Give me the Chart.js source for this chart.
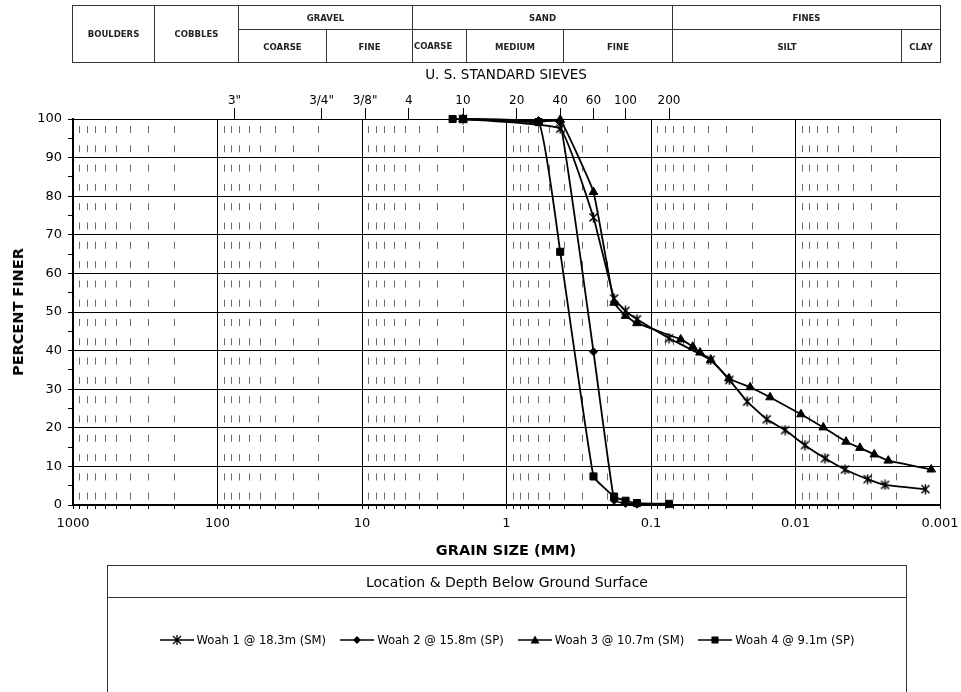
<!DOCTYPE html>
<html>
<head>
<meta charset="utf-8">
<script src="https://cdn.jsdelivr.net/npm/chart.js@4.4.1/dist/chart.umd.min.js"></script>
<style>
body { margin: 0; background: #fff; font-family: "DejaVu Sans", sans-serif; color: #000; }
#page { position: relative; width: 961px; height: 692px; overflow: hidden; }
#chart { position: absolute; left: 0; top: 0; }
.cell { position: absolute; box-sizing: border-box; border: 1px solid #333; display: flex;
        align-items: center; justify-content: center; font-weight: bold; font-size: 8.5px; color: #222; }
.label { position: absolute; white-space: nowrap; }
#legendBox { position: absolute; left: 107px; top: 565px; width: 800px; height: 140px;
             box-sizing: border-box; border: 1px solid #333; }
#legendHead { height: 31px; border-bottom: 1px solid #333; display: flex; align-items: center;
              justify-content: center; font-size: 14px; }
#legendItems { position: absolute; left: 0; right: 0; top: 67px; display: flex; justify-content: center;
               align-items: center; font-size: 11.6px; }
.item { display: flex; align-items: center; margin: 0 7px; }
.item svg { margin-right: 3px; }
</style>
</head>
<body>
<div id="page">
  <canvas id="chart" width="961" height="692"></canvas>
  <div id="table"></div>
  <div class="label" style="left:506px;top:74px;transform:translate(-50%,-50%);font-size:13.5px;">U. S. STANDARD SIEVES</div>
  <div class="label" style="left:18px;top:312px;transform:translate(-50%,-50%) rotate(-90deg);font-size:14.5px;font-weight:bold;">PERCENT FINER</div>
  <div class="label" style="left:506px;top:550px;transform:translate(-50%,-50%);font-size:14.5px;font-weight:bold;">GRAIN SIZE (MM)</div>
  <div id="legendBox">
    <div id="legendHead">Location &amp; Depth Below Ground Surface</div>
    <div id="legendItems"></div>
  </div>
</div>
<script>
// sieve test + hydrometer results, grain size in mm vs percent finer
const woah1Size = [2.0, 0.425, 0.25, 0.18, 0.15, 0.125, 0.075, 0.0386, 0.0287, 0.0216, 0.0158, 0.0118, 0.0086, 0.00625, 0.00454, 0.00317, 0.0024, 0.00126];
const woah1Finer = [100, 97.5, 74.5, 53.5, 50.3, 48.1, 43.2, 37.6, 32.4, 26.8, 22.2, 19.4, 15.5, 12.1, 9.2, 6.7, 5.2, 4.1];

const woah2Size = [2.0, 0.6, 0.425, 0.25, 0.18, 0.15, 0.125];
const woah2Finer = [100, 99.6, 99.2, 39.7, 1.2, 0.4, 0.2];

const woah3Size = [2.0, 0.6, 0.425, 0.25, 0.18, 0.15, 0.125, 0.0623, 0.0514, 0.0458, 0.0386, 0.0289, 0.0206, 0.015, 0.00917, 0.00642, 0.00447, 0.00358, 0.00285, 0.00228, 0.00115];
const woah3Finer = [100, 99.2, 99.8, 81.1, 52.4, 49.0, 47.1, 42.9, 41.0, 39.5, 37.6, 32.8, 30.5, 27.9, 23.5, 20.1, 16.4, 14.8, 13.1, 11.5, 9.2];

const woah4Size = [2.36, 2.0, 0.6, 0.425, 0.25, 0.18, 0.15, 0.125, 0.075];
const woah4Finer = [100, 100, 99.2, 65.6, 7.4, 2.2, 1.1, 0.5, 0.3];

const seriesNames = ["Woah 1 @ 18.3m (SM)", "Woah 2 @ 15.8m (SP)", "Woah 3 @ 10.7m (SM)", "Woah 4 @ 9.1m (SP)"];

// axis ticks
const decades = [1000, 100, 10, 1, 0.1, 0.01, 0.001];
const sieveLabels = ['3"', '3/4"', '3/8"', '4', '10', '20', '40', '60', '100', '200'];
const sieveSizes = [76.2, 19.05, 9.525, 4.75, 2.0, 0.85, 0.425, 0.25, 0.15, 0.075];

// soil classification header
const upperCells = [["BOULDERS", 72, 154, true], ["COBBLES", 154, 238, true], ["GRAVEL", 238, 412], ["SAND", 412, 672], ["FINES", 672, 940]];
const lowerCells = [["COARSE", 238, 326], ["FINE", 326, 412], ["COARSE", 412, 466], ["MEDIUM", 466, 563], ["FINE", 563, 672], ["SILT", 672, 901], ["CLAY", 901, 940]];

const table = document.getElementById("table");
function addCell(text, x1, x2, y1, y2, extra) {
    const d = document.createElement("div");
    d.className = "cell";
    d.style.left = x1 + "px";
    d.style.top = y1 + "px";
    d.style.width = (x2 - x1 + 1) + "px";
    d.style.height = (y2 - y1 + 1) + "px";
    if (extra) Object.assign(d.style, extra);
    d.textContent = text;
    table.appendChild(d);
}
upperCells.forEach(c => addCell(c[0], c[1], c[2], 5, c[3] ? 62 : 29, c[3] ? null : { paddingTop: "1px" }));
lowerCells.forEach((c, i) => addCell(c[0], c[1], c[2], 29, 62, i === 2 ? { justifyContent: "flex-start", paddingLeft: "1px" } : { paddingTop: "2px" }));

// all log ticks 1..9 x 10^n
const allTicks = [];
decades.slice(1).forEach(d => {
    for (let m = 9; m >= 1; m--) allTicks.push(Number((m * d).toPrecision(3)));
});
allTicks.unshift(1000);
const isDecade = v => decades.includes(v);

// asterisk marker
const star = document.createElement("canvas");
star.width = 11; star.height = 11;
const sc = star.getContext("2d");
sc.strokeStyle = "#000"; sc.lineWidth = 1.5;
sc.beginPath();
sc.moveTo(1.5, 1.5); sc.lineTo(9.5, 9.5);
sc.moveTo(9.5, 1.5); sc.lineTo(1.5, 9.5);
sc.moveTo(5.5, 0.5); sc.lineTo(5.5, 10.5);
sc.stroke();

function pts(sizes, finer) { return sizes.map((s, i) => ({ x: s, y: finer[i] })); }

const styles = [
    { pointStyle: star, pointRadius: 5 },
    { pointStyle: "rectRot", pointRadius: 4 },
    { pointStyle: "triangle", pointRadius: 5 },
    { pointStyle: "rect", pointRadius: 5 }
];
const data = [pts(woah1Size, woah1Finer), pts(woah2Size, woah2Finer), pts(woah3Size, woah3Finer), pts(woah4Size, woah4Finer)];

Chart.defaults.font.family = "DejaVu Sans";
Chart.defaults.color = "#000";

const frame = {
    id: "frame",
    afterDraw(chart) {
        const a = chart.chartArea, ctx = chart.ctx;
        ctx.save();
        ctx.strokeStyle = "#000";
        ctx.lineWidth = 1;
        ctx.beginPath();
        ctx.moveTo(a.right + 0.5, a.top);
        ctx.lineTo(a.right + 0.5, a.bottom);
        ctx.stroke();
        ctx.restore();
    }
};

new Chart(document.getElementById("chart"), {
    type: "line",
    data: {
        datasets: data.map((d, i) => ({
            label: seriesNames[i],
            data: d,
            borderColor: "#000",
            backgroundColor: "#000",
            borderWidth: 1.8,
            pointBackgroundColor: "#000",
            pointBorderColor: "#000",
            pointBorderWidth: 1,
            tension: 0.1,
            clip: false,
            ...styles[i]
        }))
    },
    options: {
        responsive: false,
        animation: false,
        layout: { padding: { left: 0, right: 21, top: 88, bottom: 0 } },
        plugins: { legend: { display: false }, tooltip: { enabled: false } },
        scales: {
            x: {
                type: "logarithmic",
                position: "bottom",
                min: 0.001,
                max: 1000,
                reverse: true,
                afterBuildTicks: s => { s.ticks = allTicks.map(v => ({ value: v })); },
                afterFit: s => { s.height = 187; s.paddingLeft = 0; s.paddingRight = 0; },
                ticks: {
                    autoSkip: false, maxRotation: 0, padding: 7, font: { size: 13 },
                    callback: v => isDecade(v) ? String(v) : ""
                },
                grid: {
                    color: c => c.tick && isDecade(c.tick.value) ? "#000" : "#6a6a6a",
                    lineWidth: 1,
                    tickLength: 4,
                    tickColor: "#000"
                },
                border: {
                    display: true, color: "#000", width: 2,
                    dash: c => c.tick && !isDecade(c.tick.value) ? [7, 12.3] : [],
                    dashOffset: 12.3
                }
            },
            x2: {
                type: "logarithmic",
                position: "top",
                min: 0.001,
                max: 1000,
                reverse: true,
                afterBuildTicks: s => { s.ticks = sieveSizes.map(v => ({ value: v })); },
                afterFit: s => { s.height = 31; s.paddingLeft = 0; s.paddingRight = 0; },
                ticks: {
                    autoSkip: false, maxRotation: 0, padding: 0, font: { size: 12 },
                    callback: (v, i) => sieveLabels[i]
                },
                grid: { drawOnChartArea: false, tickLength: 11, tickColor: "#000" },
                border: { display: true, color: "#000", width: 1 }
            },
            y: {
                min: 0,
                max: 100,
                afterFit: s => { s.width = 73; },
                ticks: {
                    stepSize: 5, padding: 6, font: { size: 13 },
                    callback: v => v % 10 === 0 ? v : ""
                },
                grid: {
                    color: c => c.tick && c.tick.value % 10 === 0 ? "#000" : "rgba(0,0,0,0)",
                    tickLength: 5,
                    tickColor: "#000"
                },
                border: { display: true, color: "#000", width: 2 }
            }
        }
    },
    plugins: [frame]
});

// legend row
const icons = [
    '<path d="M13 2L21 10M21 2L13 10M17 1V11" stroke="#000" stroke-width="1.3"/>',
    '<polygon points="17,2 21,6 17,10 13,6" fill="#000"/>',
    '<polygon points="17,1.5 21.5,9.5 12.5,9.5" fill="#000"/>',
    '<rect x="13.5" y="2.5" width="7" height="7" fill="#000"/>'
];
const legendItems = document.getElementById("legendItems");
seriesNames.forEach((name, i) => {
    const it = document.createElement("div");
    it.className = "item";
    it.innerHTML = '<svg width="34" height="12"><line x1="0" y1="6" x2="34" y2="6" stroke="#000" stroke-width="1.5"/>' +
        icons[i] + '</svg><span>' + name + '</span>';
    legendItems.appendChild(it);
});
</script>
</body>
</html>
